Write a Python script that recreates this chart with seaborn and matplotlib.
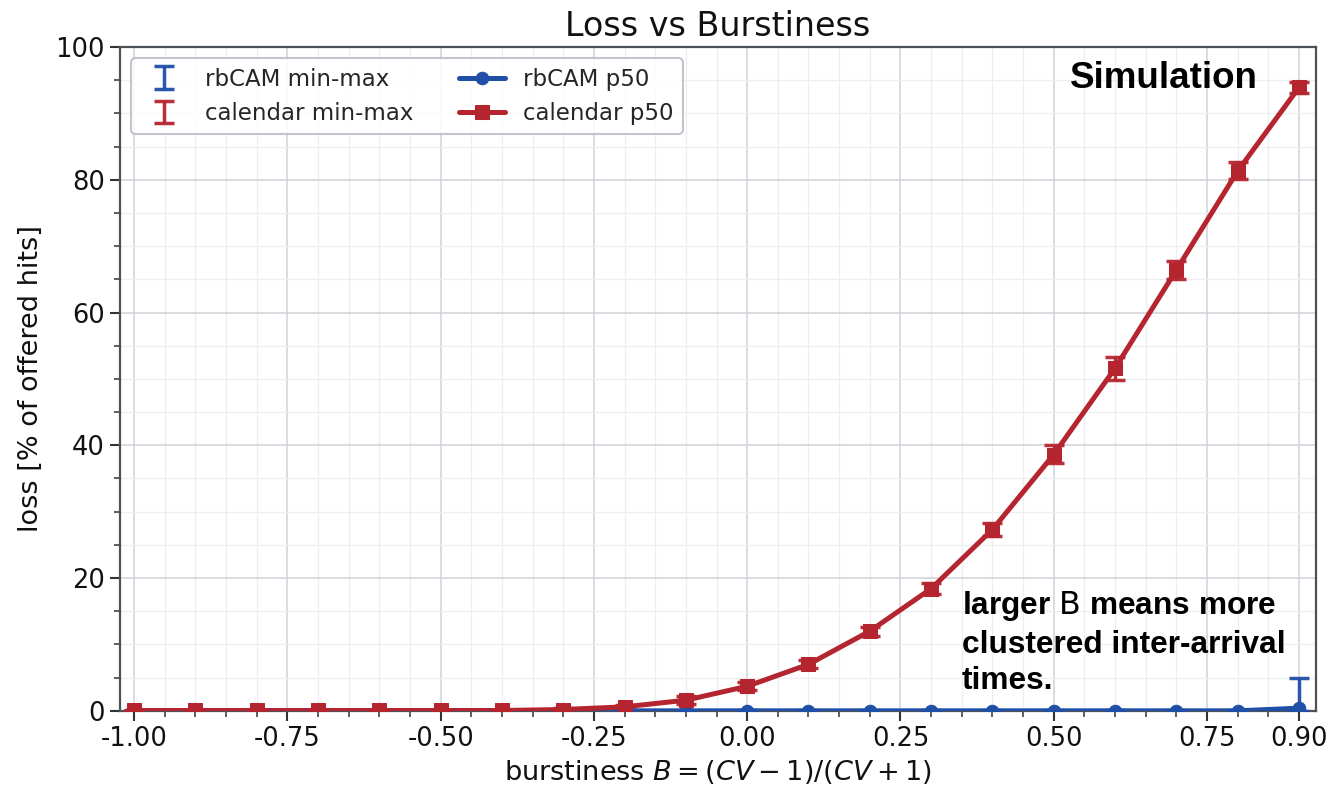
import numpy as np
import pandas as pd
import matplotlib
matplotlib.use("Agg")
import matplotlib.pyplot as plt
from matplotlib.ticker import MultipleLocator, FixedLocator, FixedFormatter
import seaborn as sns

# burstiness levels swept in the simulation
burstiness = [-1.0, -0.9, -0.8, -0.7, -0.6, -0.5, -0.4, -0.3, -0.2, -0.1,
              0.0, 0.1, 0.2, 0.3, 0.4, 0.5, 0.6, 0.7, 0.8, 0.9]

# loss [% of offered hits], median and min/max over runs
rbcam_p50 = [0.0, 0.0, 0.0, 0.0, 0.0, 0.0, 0.0, 0.0, 0.0, 0.0,
             0.0, 0.0, 0.0, 0.0, 0.0, 0.0, 0.0, 0.0, 0.0, 0.4]
rbcam_min = [0.0] * 20
rbcam_max = [0.0, 0.0, 0.0, 0.0, 0.0, 0.0, 0.0, 0.0, 0.0, 0.0,
             0.05, 0.05, 0.05, 0.05, 0.05, 0.05, 0.05, 0.05, 0.1, 5.0]

cal_p50 = [0.05, 0.05, 0.05, 0.05, 0.05, 0.05, 0.05, 0.2, 0.6, 1.6,
           3.7, 7.0, 12.0, 18.4, 27.3, 38.6, 51.6, 66.4, 81.3, 93.9]
cal_min = [0.0, 0.0, 0.0, 0.0, 0.0, 0.0, 0.0, 0.1, 0.4, 1.1,
           3.1, 6.4, 11.3, 17.6, 26.4, 37.4, 49.8, 65.0, 80.1, 93.0]
cal_max = [0.1, 0.1, 0.1, 0.1, 0.1, 0.1, 0.1, 0.4, 0.9, 2.3,
           4.3, 7.6, 12.6, 19.2, 28.3, 40.1, 53.3, 67.8, 82.6, 94.7]

xtick_values = [-1.0, -0.75, -0.5, -0.25, 0.0, 0.25, 0.5, 0.75, 0.9]
xtick_labels = ["-1.00", "-0.75", "-0.50", "-0.25", "0.00", "0.25", "0.50", "0.75", "0.90"]

BLUE = "#1f4fa6"
RED = "#b5252f"

df = pd.DataFrame({
    "B": burstiness * 2,
    "p50": rbcam_p50 + cal_p50,
    "lo": rbcam_min + cal_min,
    "hi": rbcam_max + cal_max,
    "series": ["rbCAM"] * len(burstiness) + ["calendar"] * len(burstiness),
})

sns.set_theme(style="whitegrid")
plt.rcParams["font.family"] = ["DejaVu Sans"]
plt.rcParams["axes.unicode_minus"] = False

fig = plt.figure(figsize=(13.29, 7.96), dpi=100)
ax = fig.add_axes([0.0903, 0.107, 0.900, 0.834])

# min-max whiskers
err_handles = []
for name, color in [("rbCAM", BLUE), ("calendar", RED)]:
    d = df[df.series == name]
    yerr = np.vstack([d.p50 - d.lo, d.hi - d.p50])
    h = ax.errorbar(d.B, d.p50, yerr=yerr, fmt="none", ecolor=color,
                    elinewidth=2.5, capsize=7.5, capthick=2.5, alpha=0.95,
                    zorder=3, label=f"{name} min-max")
    err_handles.append(h)

# median curves
line_handles = []
for name, color, mk, ms in [("rbCAM", BLUE, "o", 9), ("calendar", RED, "s", 10)]:
    d = df[df.series == name]
    sns.lineplot(data=d, x="B", y="p50", ax=ax, color=color, marker=mk,
                 markersize=ms, markeredgecolor=color, linewidth=3.6,
                 label=f"{name} p50", zorder=4, legend=False)
    line_handles.append(ax.lines[-1])

ax.set_xlim(-1.023, 0.928)
ax.set_ylim(0, 100)

ax.xaxis.set_major_locator(FixedLocator(xtick_values))
ax.xaxis.set_major_formatter(FixedFormatter(xtick_labels))
ax.xaxis.set_minor_locator(MultipleLocator(0.05))
ax.yaxis.set_major_locator(MultipleLocator(20))
ax.yaxis.set_minor_locator(MultipleLocator(5))

ax.grid(which="major", color="#cfd2d9", linewidth=1.1)
ax.grid(which="minor", color="#eceef2", linewidth=0.9)
ax.set_axisbelow(True)

for sp in ax.spines.values():
    sp.set_color("#4d5259")
    sp.set_linewidth(1.6)
ax.tick_params(which="major", direction="out", length=7, width=1.5,
               color="#333333", labelsize=18.5, labelcolor="#111111",
               bottom=True, left=True, pad=4)
ax.tick_params(which="minor", direction="out", length=4, width=1.1,
               color="#333333", bottom=True, left=True)

ax.set_title("Loss vs Burstiness", fontsize=24, color="#111111", pad=8)
ax.set_xlabel(r"burstiness $B = (CV - 1)/(CV + 1)$", fontsize=19.5,
              color="#111111", labelpad=4)
ax.set_ylabel("loss [% of offered hits]", fontsize=19.5, color="#111111",
              labelpad=8)

leg = ax.legend(handles=err_handles + line_handles,
                labels=["rbCAM min-max", "calendar min-max", "rbCAM p50", "calendar p50"],
                loc="upper left", ncol=2, fontsize=16.5, frameon=True,
                fancybox=True, framealpha=0.85, edgecolor="#b8bcc4")
leg.get_frame().set_linewidth(1.5)

ax.text(0.951, 0.953, "Simulation", transform=ax.transAxes, ha="right",
        va="center", fontsize=26.5, fontweight="bold", family="Liberation Sans",
        color="black", zorder=6)
ax.text(0.704, 0.183, "larger $\\mathrm{B}$ means more\nclustered inter-arrival\ntimes.",
        transform=ax.transAxes, ha="left", va="top", fontsize=22.8,
        fontweight="bold", family="Liberation Sans", color="black",
        linespacing=1.28, zorder=6)

fig.savefig("out.png", dpi=100)
